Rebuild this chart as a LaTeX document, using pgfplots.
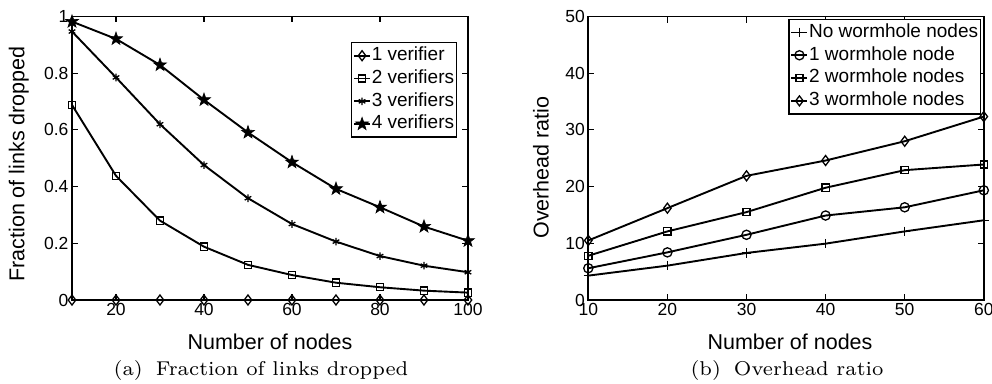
\documentclass[border=0pt]{standalone}
\usepackage{fontspec}
\setsansfont{Liberation Sans}
\newfontfamily\capfont{lmroman7-regular.otf}
\usepackage{pgfplots}
\pgfplotsset{compat=1.18}
\usetikzlibrary{plotmarks}

\pgfdeclareplotmark{fstar}{%
  \pgfpathmoveto{\pgfpointpolar{90}{\pgfplotmarksize}}%
  \pgfpathlineto{\pgfpointpolar{126}{0.40\pgfplotmarksize}}%
  \pgfpathlineto{\pgfpointpolar{162}{\pgfplotmarksize}}%
  \pgfpathlineto{\pgfpointpolar{198}{0.40\pgfplotmarksize}}%
  \pgfpathlineto{\pgfpointpolar{234}{\pgfplotmarksize}}%
  \pgfpathlineto{\pgfpointpolar{270}{0.40\pgfplotmarksize}}%
  \pgfpathlineto{\pgfpointpolar{306}{\pgfplotmarksize}}%
  \pgfpathlineto{\pgfpointpolar{342}{0.40\pgfplotmarksize}}%
  \pgfpathlineto{\pgfpointpolar{18}{\pgfplotmarksize}}%
  \pgfpathlineto{\pgfpointpolar{54}{0.40\pgfplotmarksize}}%
  \pgfpathclose
  \pgfusepathqfillstroke}

\pgfplotsset{
  matlab/.style={
    scale only axis,
    height=283.5pt,
    axis line style={line width=1.7pt},
    tick align=inside,
    xtick pos=both, ytick pos=both,
    major tick length=6pt,
    every tick/.style={black, line width=1.1pt},
    ticklabel style={font=\sffamily\fontsize{17.5}{18}\selectfont},
    /pgf/number format/assume math mode=true,
    label style={font=\sffamily\fontsize{21.5}{22}\selectfont},
    xlabel style={at={(axis description cs:0.5,-0.176)}, anchor=base},
    legend cell align=left,
    legend style={draw=black, line width=1.4pt, fill=white,
      font=\sffamily\fontsize{19}{20}\selectfont,
      inner xsep=1.5pt, inner ysep=1.6pt,
      nodes={text height=14pt, text depth=4.5pt, inner xsep=0.75pt, inner ysep=2.15pt},
      column sep=0pt, row sep=0pt},
    legend image code/.code={\draw[mark repeat=2,mark phase=2] plot coordinates {(0pt,0pt) (8pt,0pt) (16pt,0pt)};},
  },
  ser/.style={black, line width=1.9pt, mark options={solid, line width=1.3pt}},
}

\begin{document}
\begin{tikzpicture}[x=1pt,y=1pt]
\path[use as bounding box] (0,0) rectangle (992,383);

\begin{axis}[matlab,
  at={(72pt,83pt)}, anchor=south west,
  width=396pt,
  xmin=10, xmax=100, ymin=0, ymax=1,
  xtick={20,40,60,80,100},
  ytick={0,0.2,0.4,0.6,0.8,1},
  xlabel={Number of nodes},
  ylabel={Fraction of links dropped},
  ylabel style={at={(axis description cs:-0.134,0.48)}, anchor=center},
  legend style={at={(axis description cs:0.8384,0.91)}, anchor=north},
]
\addplot[ser, mark=diamond, mark size=5pt] coordinates {
(10,0) (20,0) (30,0) (40,0) (50,0) (60,0) (70,0) (80,0) (90,0) (100,0)};
\addlegendentry{1 verifier}
\addplot[ser, mark=square, mark size=3.6pt] coordinates {
(10,0.688) (20,0.438) (30,0.280) (40,0.188) (50,0.124) (60,0.088) (70,0.061) (80,0.045) (90,0.033) (100,0.026)};
\addlegendentry{2 verifiers}
\addplot[ser, mark=asterisk, mark size=3.8pt] coordinates {
(10,0.947) (20,0.785) (30,0.620) (40,0.476) (50,0.359) (60,0.268) (70,0.206) (80,0.155) (90,0.121) (100,0.098)};
\addlegendentry{3 verifiers}
\addplot[ser, mark=fstar, mark size=6.8pt, mark options={fill=black, line width=0.6pt}] coordinates {
(10,0.982) (20,0.921) (30,0.829) (40,0.706) (50,0.591) (60,0.486) (70,0.392) (80,0.327) (90,0.259) (100,0.209)};
\addlegendentry{4 verifiers}
\end{axis}

\begin{axis}[matlab,
  at={(588.3pt,83pt)}, anchor=south west,
  width=395.5pt,
  xmin=10, xmax=60, ymin=0, ymax=50,
  xtick={10,20,30,40,50,60},
  ytick={0,10,20,30,40,50},
  xlabel={Number of nodes},
  xlabel style={at={(axis description cs:0.51,-0.176)}, anchor=base},
  ylabel={Overhead ratio},
  ylabel style={at={(axis description cs:-0.12,0.467)}, anchor=center},
  legend style={at={(axis description cs:0.7494,0.992)}, anchor=north},
]
\addplot[ser, mark=+, mark size=4.8pt] coordinates {
(10,4.3) (20,6.06) (30,8.3) (40,9.94) (50,12.1) (60,14.06)};
\addlegendentry{No wormhole nodes}
\addplot[ser, mark=o, mark size=4.6pt] coordinates {
(10,5.6) (20,8.4) (30,11.5) (40,14.9) (50,16.35) (60,19.35)};
\addlegendentry{1 wormhole node}
\addplot[ser, mark=square, mark size=3.6pt] coordinates {
(10,7.8) (20,12.1) (30,15.5) (40,19.8) (50,22.9) (60,23.9)};
\addlegendentry{2 wormhole nodes}
\addplot[ser, mark=diamond, mark size=5pt] coordinates {
(10,10.5) (20,16.2) (30,21.9) (40,24.6) (50,28.0) (60,32.35)};
\addlegendentry{3 wormhole nodes}
\end{axis}

\node[font=\capfont\fontsize{20}{22}\selectfont, anchor=base] at (261,8) {(a)\hspace{13pt}Fraction of links dropped};
\node[font=\capfont\fontsize{20}{22}\selectfont, anchor=base] at (787,8) {(b)\hspace{13pt}Overhead ratio};
\end{tikzpicture}
\end{document}
